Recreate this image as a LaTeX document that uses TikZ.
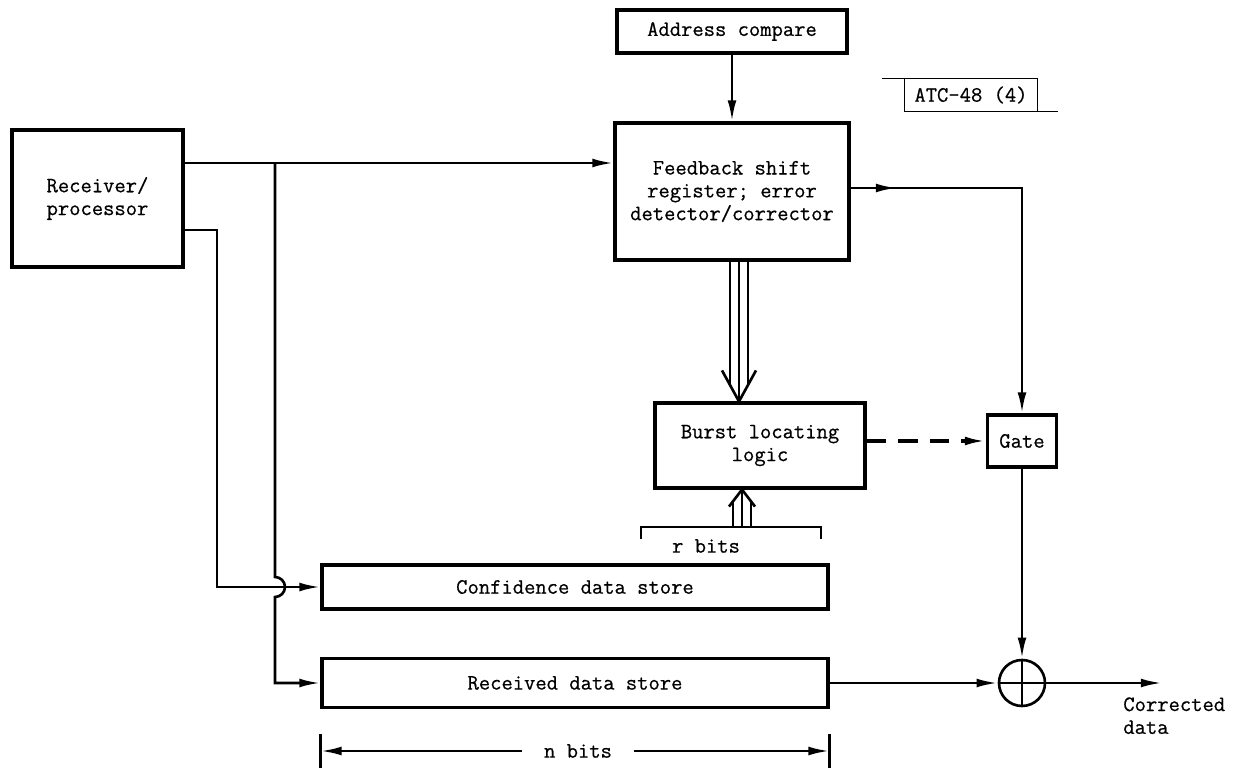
\documentclass[tikz,border=0pt]{standalone}
\usepackage{fontspec}
\usetikzlibrary{arrows.meta,calc}
\newfontfamily\dgfont[FakeBold=0.6]{Latin Modern Mono}
\newcommand{\dgtxt}{\dgfont\fontsize{12.5}{13}\selectfont}
\begin{document}
\begin{tikzpicture}[x=0.02cm,y=-0.02cm,
  blk/.style={draw,line width=1.8pt,inner sep=0pt,align=center,font=\dgtxt},
  conn/.style={line width=1.5pt},
  arr/.style={conn,-{Latex[length=12pt,width=5pt]}},
  lbl/.style={inner sep=0pt,align=center,font=\dgtxt},
  thinln/.style={line width=0.9pt}]
\useasboundingbox (0,0) rectangle (1238,770);

% blocks
\node[blk,minimum width=4.6cm,minimum height=0.86cm] (addr) at (732,31.5) {Address compare};
\node[blk,minimum width=4.68cm,minimum height=2.74cm] (fsr) at (732,191.5) {Feedback shift\\register; error\\detector/corrector};
\node[blk,minimum width=3.42cm,minimum height=2.74cm] (recv) at (97.5,198.5) {Receiver/\\processor};
\node[blk,minimum width=4.2cm,minimum height=1.7cm] (burst) at (760,445.5) {Burst locating\\logic};
\node[blk,minimum width=1.38cm,minimum height=1.04cm] (gate) at (1022,441) {Gate};
\node[blk,minimum width=10.12cm,minimum height=0.88cm] (conf) at (575,587) {Confidence data store};
\node[blk,minimum width=10.12cm,minimum height=0.98cm] (recd) at (575,683) {Received data store};
\node[draw,circle,line width=1.5pt,minimum size=0.92cm,inner sep=0pt] (xor) at (1022,683) {};

% labels
\node[lbl,minimum width=2.64cm,minimum height=0.64cm] (atc) at (971,95) {ATC-48 (4)};
\node[lbl,anchor=north west,align=left] (cd) at (1123,697) {Corrected\\data};
\node[lbl] (rb) at (706,546) {r bits};
\node[lbl] (nb) at (578,751) {n bits};

% helper coordinates
\coordinate (ya) at (0,163);
\coordinate (yb) at (0,230);
\coordinate (xa) at (275,0);
\coordinate (xb) at (217,0);
\coordinate (yo) at (0,188);
\coordinate (xm) at (897,0);
\coordinate (cx) at (739,0);
\coordinate (cr) at (742,0);
\coordinate (out) at (1162,683);

% connectors
\draw[arr] (addr.south) -- (addr.south |- fsr.north);
\draw[arr] (recv.east |- ya) -- (fsr.west |- ya);
\draw[arr] (xa |- ya) -- ($(xa |- conf.west)+(0,-10)$)
   arc[start angle=90,end angle=-90,radius=0.2cm]
   -- (xa |- recd.west) -- (recd.west);
\draw[arr] (recv.east |- yb) -- (xb |- yb) -- (xb |- conf.west) -- (conf.west);
\draw[arr] (fsr.east |- yo) -- (gate.north |- yo) -- (gate.north);
\draw[arr] (fsr.east |- yo) -- (xm |- yo);
\draw[arr,line width=1.8pt,dash pattern=on 11pt off 7pt] (burst.east |- gate.west) -- (gate.west);
\draw[arr] (gate.south) -- (xor.north);
\draw[arr] (recd.east) -- (xor.west);
\draw[arr] (xor.east) -- (out);
\draw[conn] (xor.north) -- (xor.south) (xor.west) -- (xor.east);

% hollow arrow FSR -> burst
\coordinate (ht) at (fsr.south -| cx);
\coordinate (hb) at (burst.north -| cx);
\draw[conn] ($(ht)+(-9,0)$) -- ($(hb)+(-9,-16)$)
            ($(ht)+(9,0)$) -- ($(hb)+(9,-16)$)
            (ht) -- (hb);
\draw[conn,line join=miter] ($(hb)+(-17,-31)$) -- (hb) -- ($(hb)+(17,-31)$);

% r bits bracket and hollow arrow
\coordinate (bl) at (641,527);
\coordinate (br) at (821,527);
\draw[conn] ($(bl)+(0,12)$) -- (bl) -- (br) -- ($(br)+(0,12)$);
\coordinate (rt) at (burst.south -| cr);
\coordinate (rbt) at (bl -| cr);
\draw[conn] ($(rbt)+(-9,0)$) -- ($(rt)+(-9,12)$)
            ($(rbt)+(9,0)$) -- ($(rt)+(9,12)$)
            (rbt) -- (rt);
\draw[conn,line join=miter] ($(rt)+(-13,17)$) -- (rt) -- ($(rt)+(13,17)$);

% n bits dimension
\coordinate (nl) at (recd.south west |- nb);
\coordinate (nr) at (recd.south east |- nb);
\draw[conn] ($(nl)+(0,-17)$) -- ($(nl)+(0,17)$);
\draw[conn] ($(nr)+(0,-17)$) -- ($(nr)+(0,17)$);
\draw[arr] ($(nb.west)+(-22,0)$) -- (nl);
\draw[arr] ($(nb.east)+(22,0)$) -- (nr);

% ATC tag
\draw[thinln] ($(atc.north west)+(-23,0)$) -- (atc.north east) -- (atc.south east);
\draw[thinln] (atc.north west) -- (atc.south west) -- ($(atc.south east)+(21,0)$);
\end{tikzpicture}
\end{document}
